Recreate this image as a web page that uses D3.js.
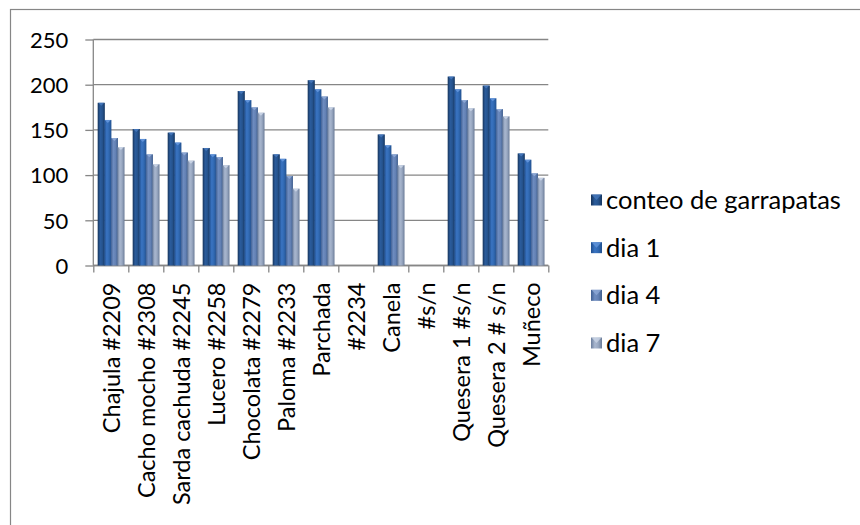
<!DOCTYPE html>
<html><head><meta charset="utf-8">
<script src="https://cdn.jsdelivr.net/npm/d3@7"></script>
<style>body{margin:0;background:#fff}svg{display:block}text{font-family:Lato,"Noto Sans",sans-serif;fill:#000}</style>
</head><body><svg id="c" width="860" height="525"></svg>
<script>
const categories=["Chajula #2209","Cacho mocho #2308","Sarda cachuda #2245","Lucero #2258","Chocolata #2279","Paloma #2233","Parchada","#2234","Canela","#s/n","Quesera 1 #s/n","Quesera 2 # s/n","Muñeco"];
const seriesNames=["conteo de garrapatas","dia 1","dia 4","dia 7"];
const conteo=[180,151,147,130,193,123,205,null,145,null,209,199,124];
const dia1=[161,140,136,123,183,118,195,null,133,null,195,185,117];
const dia4=[141,123,125,120,175,99,187,null,123,null,183,173,102];
const dia7=[131,112,116,111,169,85,175,null,111,null,174,165,97];
const yTicks=[0,50,100,150,200,250];
const seriesValues=[conteo,dia1,dia4,dia7];

const gradStops=[
 ["#16335A","#2B5C9C","#26548F","#173761"],
 ["#1F4E8E","#3A74C2","#3169B2","#20508F"],
 ["#3F5F92","#6E8CC0","#6482B5","#41608F"],
 ["#6A7D9C","#A9B7CF","#9AA9C2","#6B7C98"]];
const capColors=["#4A7CC0","#6A9BE0","#93AEDA","#D0DAEA"];

const svg=d3.select("#c");
const defs=svg.append("defs");
gradStops.forEach((s,i)=>{
  const g=defs.append("linearGradient").attr("id","g"+i).attr("x1","0").attr("x2","1").attr("y1","0").attr("y2","0");
  [0,0.35,0.65,1].forEach((o,j)=>g.append("stop").attr("offset",o).attr("stop-color",s[j]));
});

// chart border
svg.append("rect").attr("x",10.5).attr("y",9.5).attr("width",900).attr("height",600)
  .attr("fill","none").attr("stroke","#868686").attr("stroke-width",1.2);

const pLeft=93.3,pRight=548.3,pTop=39.5,pBottom=265.5;
const y=d3.scaleLinear().domain([0,250]).range([pBottom,pTop]);
const x=d3.scaleBand().domain(categories).range([pLeft,pRight]).paddingInner(0.25).paddingOuter(0.125);
const xs=d3.scaleBand().domain(seriesNames).range([0,x.bandwidth()]);
const xb=d3.scaleLinear().domain([0,categories.length]).range([pLeft,pRight]);

// gridlines
svg.append("g").selectAll("line").data(yTicks).join("line")
  .attr("x1",pLeft).attr("x2",pRight).attr("y1",d=>y(d)).attr("y2",d=>y(d))
  .attr("stroke","#868686").attr("stroke-width",1.3);

// y axis
const ya=svg.append("g").attr("transform",`translate(${pLeft},0)`)
  .call(d3.axisLeft(y).tickValues(yTicks).tickSize(8).tickPadding(8));
ya.selectAll("path,line").attr("stroke","#868686").attr("stroke-width",1.3);
ya.select(".domain").attr("d",`M0,${pTop}V${pBottom}`);
ya.selectAll("text").style("font-size","22px").attr("dy","0.35em").attr("x",-25);

// x axis boundary ticks
const xa=svg.append("g").attr("transform",`translate(0,${pBottom})`)
  .call(d3.axisBottom(xb).tickValues(d3.range(categories.length+1)).tickSize(7).tickFormat(""));
xa.selectAll("path,line").attr("stroke","#868686").attr("stroke-width",1.3);
xa.select(".domain").attr("d",`M${pLeft},0H${pRight}`);

// bars
seriesValues.forEach((vals,si)=>{
  const g=svg.append("g");
  const data=categories.map((c,i)=>({c,v:vals[i]})).filter(d=>d.v!=null);
  const bw=xs.bandwidth();
  g.selectAll("rect").data(data).join("rect")
    .attr("x",d=>x(d.c)+xs(seriesNames[si]))
    .attr("y",d=>y(d.v))
    .attr("width",bw+0.6)
    .attr("height",d=>pBottom-y(d.v))
    .attr("fill",`url(#g${si})`);
  g.selectAll("path").data(data).join("path")
    .attr("d",d=>{const x0=x(d.c)+xs(seriesNames[si]),t=y(d.v);
      return `M${x0+0.5},${t}L${x0+bw},${t}L${x0+bw/2+0.3},${t+3}Z`;})
    .attr("fill",capColors[si]).attr("opacity",0.8);
});

// x labels
svg.append("g").selectAll("text").data(categories).join("text")
  .attr("transform",d=>`translate(${x(d)+x.bandwidth()/2+1},${pBottom+17}) rotate(-90)`)
  .attr("text-anchor","end").attr("dy","0.35em")
  .style("font-size","23.5px").text(d=>d);

// legend
const ly=d3.scalePoint().domain(seriesNames).range([200,343]);
const lg=svg.append("g");
seriesNames.forEach((n,i)=>{
  lg.append("rect").attr("x",591).attr("y",ly(n)-5.5).attr("width",11).attr("height",11).attr("fill",`url(#g${i})`);
  lg.append("path").attr("d",`M591.5,${ly(n)-5.5}L601.5,${ly(n)-5.5}L596.5,${ly(n)}Z`).attr("fill",capColors[i]).attr("opacity",0.7);
  lg.append("text").attr("x",606).attr("y",ly(n)).attr("dy","0.35em").style("font-size","25.5px").text(n);
});
</script></body></html>
